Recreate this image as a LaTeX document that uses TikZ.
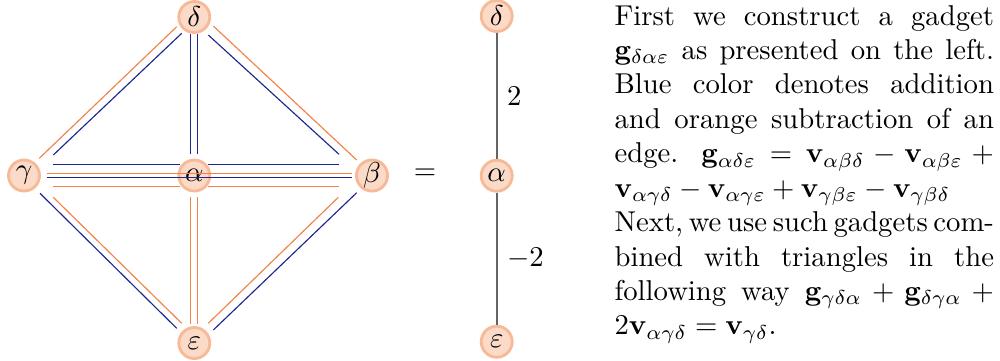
\documentclass[tikz,border=0pt]{standalone}
\usetikzlibrary{calc}
\definecolor{nodefill}{RGB}{252,218,200}
\definecolor{nodeline}{RGB}{247,186,152}
\definecolor{addblue}{RGB}{30,40,140}
\definecolor{suborange}{RGB}{243,130,72}
\definecolor{edgegray}{RGB}{100,100,100}
\begin{document}
\begin{tikzpicture}[x=0.3484pt,y=-0.3484pt,
  vert/.style={circle, fill=nodefill, draw=nodeline, line width=1pt, minimum size=10.8pt, inner sep=0pt},
  addline/.style={draw=addblue, line width=0.4pt},
  subline/.style={draw=suborange, line width=0.4pt},
  graybar/.style={draw=edgegray, line width=0.6pt}]
\useasboundingbox (0,0) rectangle (1000,360);

% left gadget
\node[vert] (d) at (194.3,17) {$\delta$};
\node[vert] (g) at (24,175.5) {$\gamma$};
\node[vert] (a) at (194.3,175.5) {$\alpha$};
\node[vert] (b) at (372,175.5) {$\beta$};
\node[vert] (e) at (194.3,343) {$\varepsilon$};

% delta - gamma
\draw[subline] ($(d)+(-17.6,9.7)$) -- ($(g)+(15.3,-17.2)$);
\draw[addline] ($(d)+(-12.6,16.3)$) -- ($(g)+(29.3,-20.5)$);
% delta - beta
\draw[addline] ($(d)+(14,18)$) -- ($(b)+(-33,-21.2)$);
\draw[subline] ($(d)+(19,9)$) -- ($(b)+(-15.3,-15.5)$);
% delta - alpha
\draw[addline] ($(d)+(-3.6,17)$) -- ($(a)+(-3.6,-21.5)$);
\draw[addline] ($(d)+(3.6,17)$) -- ($(a)+(3.6,-21.5)$);
% gamma - alpha, alpha - beta
\draw[addline] ($(g)+(29.3,-11.2)$) -- ($(a)+(-14.3,-11.2)$);
\draw[addline] ($(a)+(13.7,-11.2)$) -- ($(b)+(-33,-11.2)$);
\draw[subline] ($(g)+(29.3,11.2)$) -- ($(a)+(-14.3,11.2)$);
\draw[subline] ($(a)+(13.7,11.2)$) -- ($(b)+(-33,11.2)$);
% gamma - beta (over alpha)
\draw[subline] ($(g)+(22.7,-2.2)$) -- ($(b)+(-20.3,-2.2)$);
\draw[addline] ($(g)+(22.7,2.2)$) -- ($(b)+(-20.3,2.2)$);
% alpha - epsilon
\draw[subline] ($(a)+(-3.6,21.5)$) -- ($(e)+(-3.6,-19)$);
\draw[subline] ($(a)+(3.6,21.5)$) -- ($(e)+(3.6,-19)$);
% gamma - epsilon
\draw[addline] ($(g)+(16,17.8)$) -- ($(e)+(-17.6,-14.7)$);
\draw[subline] ($(g)+(29.3,21.8)$) -- ($(e)+(-12.6,-19.7)$);
% beta - epsilon
\draw[subline] ($(b)+(-33.7,21.8)$) -- ($(e)+(14,-19.7)$);
\draw[addline] ($(b)+(-15.3,17.2)$) -- ($(e)+(19,-13)$);

% equals sign
\node (eq) at (425,174) {$=$};

% right graph
\node[vert] (d2) at (496.7,16) {$\delta$};
\node[vert] (a2) at (496.7,175.7) {$\alpha$};
\node[vert] (e2) at (496.7,341.7) {$\varepsilon$};
\draw[graybar] (d2) -- node[right] {$2$} (a2);
\draw[graybar] (a2) -- node[right] {$-2$} (e2);

% text
\node[anchor=base west, inner sep=0pt] (txt) at (614,25) {\parbox[t]{132.2pt}{\hyphenpenalty=10000 \spaceskip=3.333pt plus 1.666pt minus 1.6pt
First we construct a gadget\linebreak
$\mathbf{g}_{\delta\alpha\varepsilon}$ as presented on the left.\linebreak
Blue color denotes addition\linebreak
and orange subtraction of an\linebreak
edge. $\mathbf{g}_{\alpha\delta\varepsilon}=\mathbf{v}_{\alpha\beta\delta}-\mathbf{v}_{\alpha\beta\varepsilon}+\linebreak
\mathbf{v}_{\alpha\gamma\delta}-\mathbf{v}_{\alpha\gamma\varepsilon}+\mathbf{v}_{\gamma\beta\varepsilon}-\mathbf{v}_{\gamma\beta\delta}$\\
Next,~we~use~such~gadgets~com-\linebreak
bined~with~triangles~in~the\linebreak
following~way $\mathbf{g}_{\gamma\delta\alpha}+\mathbf{g}_{\delta\gamma\alpha}+\linebreak
2\mathbf{v}_{\alpha\gamma\delta}=\mathbf{v}_{\gamma\delta}$.}};
\end{tikzpicture}
\end{document}
